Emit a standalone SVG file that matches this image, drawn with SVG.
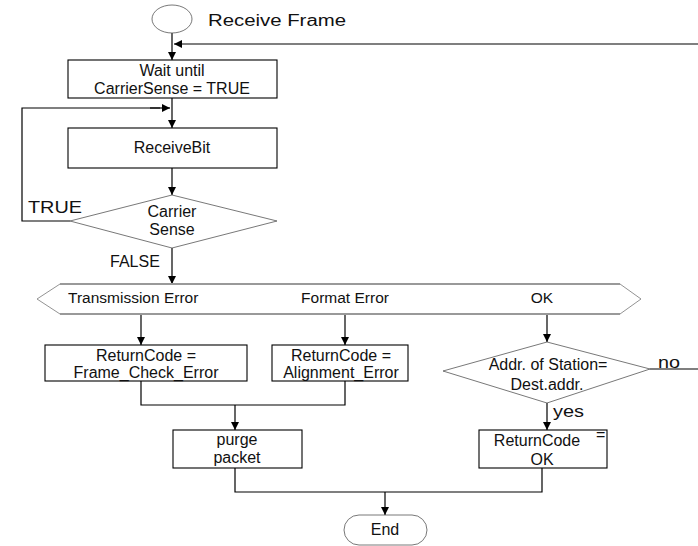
<svg xmlns="http://www.w3.org/2000/svg" width="698" height="546" viewBox="0 0 698 546">
<style>
  .box { fill: #fff; stroke: #000; stroke-width: 1.1; }
  .dia { fill: #fff; stroke: #555; stroke-width: 0.8; }
  .ln { fill: none; stroke: #000; stroke-width: 1.2; }
  .arr { fill: none; stroke: #000; stroke-width: 1.2; marker-end: url(#ah); }
  text { font-family: "Liberation Sans", Arial, sans-serif; font-size: 16px; fill: #111; }
  .c { text-anchor: middle; }
  .hx { font-size: 15.5px; }
</style>
<defs>
  <marker id="ah" viewBox="0 0 10 10" refX="10" refY="5" markerWidth="8" markerHeight="13" markerUnits="userSpaceOnUse" orient="auto">
    <path d="M0,0 L10,5 L0,10 z" fill="#000"/>
  </marker>
</defs>
<rect width="698" height="546" fill="#fff"/>
<g id="connectors">
  <line class="arr" x1="172" y1="33" x2="172" y2="60"/>
  <line class="arr" x1="698" y1="44" x2="174" y2="44"/>
  <line class="arr" x1="172" y1="98" x2="172" y2="128"/>
  <polyline class="ln" points="70,221 22,221 22,108 160,108"/>
  <line class="arr" x1="150" y1="108" x2="170" y2="108"/>
  <line class="arr" x1="172" y1="168" x2="172" y2="195"/>
  <line class="arr" x1="172" y1="248" x2="172" y2="284"/>
  <line class="arr" x1="141" y1="314" x2="141" y2="345"/>
  <line class="arr" x1="345" y1="314" x2="345" y2="345"/>
  <line class="arr" x1="547" y1="314" x2="547" y2="342"/>
  <line class="ln" x1="650" y1="369" x2="698" y2="369"/>
  <line class="arr" x1="547" y1="403" x2="547" y2="430"/>
  <polyline class="ln" points="141,381 141,405 345,405 345,381"/>
  <line class="arr" x1="235" y1="405" x2="235" y2="430"/>
  <polyline class="ln" points="235,468 235,492 542,492 542,468"/>
  <line class="arr" x1="385" y1="492" x2="385" y2="515"/>
</g>
<g id="start">
  <ellipse cx="172" cy="19" rx="20" ry="14" fill="#fff" stroke="#555" stroke-width="0.8"/>
  <text x="208" y="26" font-size="18" textLength="138" lengthAdjust="spacingAndGlyphs">Receive Frame</text>
</g>
<g id="wait">
  <rect class="box" x="68" y="60" width="209" height="38"/>
  <text x="172" y="76" class="c">Wait until</text>
  <text x="172" y="94" class="c">CarrierSense = TRUE</text>
</g>
<g id="receivebit">
  <rect class="box" x="68" y="128" width="209" height="40"/>
  <text x="172" y="153" class="c">ReceiveBit</text>
</g>
<g id="carrier">
  <polygon class="dia" points="172,195 277,221 172,248 70,221"/>
  <text x="172" y="217" class="c">Carrier</text>
  <text x="172" y="235" class="c">Sense</text>
  <text x="28" y="213" textLength="54" lengthAdjust="spacingAndGlyphs">TRUE</text>
  <text x="110" y="267">FALSE</text>
</g>
<g id="case">
  <polygon points="37,299 60,284 620,284 641,299 620,314 60,314" fill="#fff" stroke="#777" stroke-width="0.8"/>
  <line x1="60" y1="284" x2="620" y2="284" stroke="#999" stroke-width="2"/>
  <line x1="60" y1="314" x2="620" y2="314" stroke="#999" stroke-width="2"/>
  <text x="68" y="303" class="hx">Transmission Error</text>
  <text x="345" y="303" class="c hx">Format Error</text>
  <text x="542" y="303" class="c hx">OK</text>
</g>
<g id="fce">
  <rect class="box" x="45" y="345" width="202" height="36"/>
  <text x="146" y="361" class="c">ReturnCode =</text>
  <text x="146" y="378" class="c">Frame_Check_Error</text>
</g>
<g id="ae">
  <rect class="box" x="272" y="345" width="136" height="36"/>
  <text x="341" y="361" class="c">ReturnCode =</text>
  <text x="341" y="378" class="c">Alignment_Error</text>
</g>
<g id="addr">
  <polygon class="dia" points="547,342 650,369 547,403 443,371"/>
  <text x="548" y="370" class="c">Addr. of Station=</text>
  <text x="547" y="390" class="c">Dest.addr.</text>
  <text x="658" y="368" textLength="22" lengthAdjust="spacingAndGlyphs">no</text>
  <text x="553" y="417" textLength="31" lengthAdjust="spacingAndGlyphs">yes</text>
</g>
<g id="ok">
  <rect class="box" x="479" y="430" width="128" height="38"/>
  <text x="537" y="446" class="c">ReturnCode</text>
  <text x="596" y="440" font-size="14">=</text>
  <text x="542" y="465" class="c">OK</text>
</g>
<g id="purge">
  <rect class="box" x="173" y="430" width="129" height="38"/>
  <text x="237" y="445" class="c">purge</text>
  <text x="237" y="463" class="c">packet</text>
</g>
<g id="end">
  <rect x="344" y="515" width="83" height="30" rx="15" fill="#fff" stroke="#555" stroke-width="0.8"/>
  <text x="385" y="535" class="c">End</text>
</g>
</svg>
